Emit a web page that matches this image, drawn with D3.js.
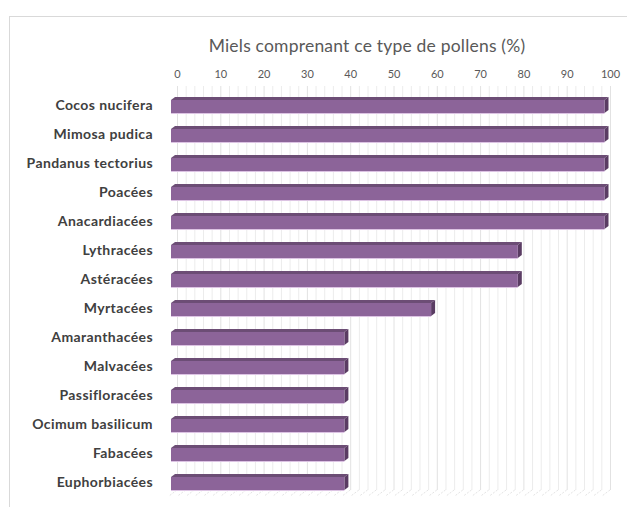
<!DOCTYPE html>
<html>
<head>
<meta charset="utf-8">
<script src="https://cdn.jsdelivr.net/npm/d3@7"></script>
<style>
  html, body { margin: 0; padding: 0; background: #fff; }
  svg { display: block; }
</style>
</head>
<body>
<script>
// Pollen types found in the honeys, and share of honeys containing each
const categories = [
  "Cocos nucifera", "Mimosa pudica", "Pandanus tectorius", "Poacées",
  "Anacardiacées", "Lythracées", "Astéracées", "Myrtacées",
  "Amaranthacées", "Malvacées", "Passifloracées", "Ocimum basilicum",
  "Fabacées", "Euphorbiacées"
];
const values = [100, 100, 100, 100, 100, 80, 80, 60, 40, 40, 40, 40, 40, 40];
const tickValues = [0, 10, 20, 30, 40, 50, 60, 70, 80, 90, 100];
const title = "Miels comprenant ce type de pollens (%)";

const W = 627, H = 507;
const svg = d3.select("body").append("svg").attr("width", W).attr("height", H);

// Chart frame
svg.append("rect")
  .attr("x", 9.5).attr("y", 16.5).attr("width", W + 10).attr("height", H + 10)
  .attr("fill", "#fff").attr("stroke", "#d9d9d9").attr("stroke-width", 1);

// Front plane (bars) and back wall (gridlines, labels) scales
const x = d3.scaleLinear().domain([0, 100]).range([171, 604.5]);
const xb = d3.scaleLinear().domain([0, 100]).range([177, 610]);
const y = d3.scaleBand().domain(categories).range([92, 498])
  .paddingInner(0.55).paddingOuter(0.275);
const depthX = 4, depthY = 3;

// Title
svg.append("text")
  .attr("x", 367).attr("y", 52)
  .attr("text-anchor", "middle")
  .attr("font-family", "Lato, 'Open Sans', sans-serif")
  .attr("font-size", 17.5)
  .attr("letter-spacing", 0.2)
  .attr("fill", "#595959")
  .text(title);

// Vertical gridlines every 2 units on the back wall
const gridVals = d3.range(0, 101, 2);
svg.append("g").selectAll("line").data(gridVals).join("line")
  .attr("x1", d => xb(d) + 0.5).attr("x2", d => xb(d) + 0.5)
  .attr("y1", 86).attr("y2", 490)
  .attr("stroke", d => d % 10 === 0 ? "#e2e2e2" : "#ececec")
  .attr("stroke-width", 1);

// Floor lines running forward from the back wall
svg.append("g").selectAll("line").data(gridVals).join("line")
  .attr("x1", d => xb(d)).attr("y1", 490)
  .attr("x2", d => xb(d) - 8).attr("y2", 496)
  .attr("stroke", "#e4e4e4")
  .attr("stroke-width", 1)
  .attr("stroke-dasharray", "2,1.5");

// Top axis labels
const axis = d3.axisTop(xb).tickValues(tickValues).tickSize(0).tickPadding(0);
const gAxis = svg.append("g").attr("transform", "translate(0,78)").call(axis);
gAxis.select(".domain").remove();
gAxis.selectAll("text")
  .attr("font-family", "Lato, 'Open Sans', sans-serif")
  .attr("font-size", 11)
  .attr("fill", "#595959");

// Category labels
svg.append("g").selectAll("text").data(categories).join("text")
  .attr("x", 153)
  .attr("y", d => y(d) + y.bandwidth() / 2 - 1)
  .attr("dy", "0.35em")
  .attr("text-anchor", "end")
  .attr("font-family", "Lato, 'Open Sans', sans-serif")
  .attr("font-weight", "bold")
  .attr("font-size", 14)
  .attr("letter-spacing", 0.4)
  .attr("fill", "#404040")
  .text(d => d);

// 3D bars: top face, right side, front face
const rows = categories.map((c, i) => ({ c, v: values[i] }));
const bars = svg.append("g").selectAll("g").data(rows).join("g");

bars.append("path")
  .attr("d", d => {
    const x0 = x(0), x1 = x(d.v), y0 = y(d.c);
    return `M${x0},${y0} L${x0 + depthX},${y0 - depthY} L${x1 + depthX},${y0 - depthY} L${x1},${y0} Z`;
  })
  .attr("fill", "#6c4d75");

bars.append("path")
  .attr("d", d => {
    const x1 = x(d.v), y0 = y(d.c), y1 = y0 + y.bandwidth();
    return `M${x1},${y0} L${x1 + depthX},${y0 - depthY} L${x1 + depthX},${y1 - depthY} L${x1},${y1} Z`;
  })
  .attr("fill", "#5a3c63");

bars.append("rect")
  .attr("x", x(0))
  .attr("y", d => y(d.c))
  .attr("width", d => x(d.v) - x(0))
  .attr("height", y.bandwidth())
  .attr("fill", "#8c6499");

// Light lower edge of each bar
bars.append("line")
  .attr("x1", x(0)).attr("x2", d => x(d.v))
  .attr("y1", d => y(d.c) + y.bandwidth() + 0.5)
  .attr("y2", d => y(d.c) + y.bandwidth() + 0.5)
  .attr("stroke", "#dcc3e3").attr("stroke-width", 1);
</script>
</body>
</html>
